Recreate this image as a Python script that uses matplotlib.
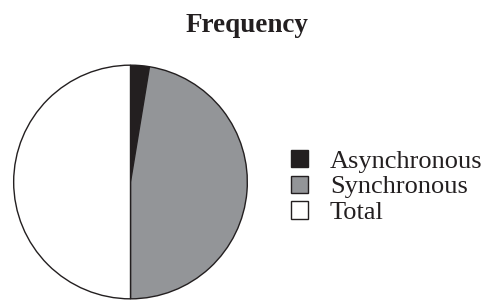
import matplotlib
matplotlib.use("Agg")
import matplotlib.pyplot as plt
from matplotlib.patches import Patch

categories = ["Asynchronous", "Synchronous", "Total"]
values = [2.6, 47.4, 50.0]
colors = ["#231f20", "#939598", "#ffffff"]
title = "Frequency"

plt.rcParams["font.family"] = ["Liberation Serif", "DejaVu Serif"]

W, H = 484, 301
fig = plt.figure(figsize=(W / 100, H / 100), dpi=100)

cx, cy, r = 130.5, 182.0, 118.0
ax = fig.add_axes([(cx - r) / W, (H - cy - r) / H, 2 * r / W, 2 * r / H])
ax.pie(values, colors=colors, startangle=90, counterclock=False,
       wedgeprops=dict(edgecolor="#231f20", linewidth=1.0))
ax.set_xlim(-1.01, 1.01)
ax.set_ylim(-1.01, 1.01)
ax.set_aspect("equal")
ax.axis("off")

fig.text(247 / W, 1 - 31.7 / H, title, ha="center", va="baseline",
         fontsize=19.5, fontweight="bold", color="#231f20")

handles = [Patch(facecolor=c, edgecolor="#231f20", linewidth=1.0) for c in colors]
fig.legend(handles, categories, loc="center left",
           bbox_to_anchor=(291 / W, 1 - 187 / H), frameon=False,
           fontsize=19, handlelength=0.64, handleheight=0.64,
           handletextpad=0.83, labelspacing=0.1, borderpad=0.0,
           borderaxespad=0.0, labelcolor="#231f20")

fig.savefig("out.png", dpi=100)
